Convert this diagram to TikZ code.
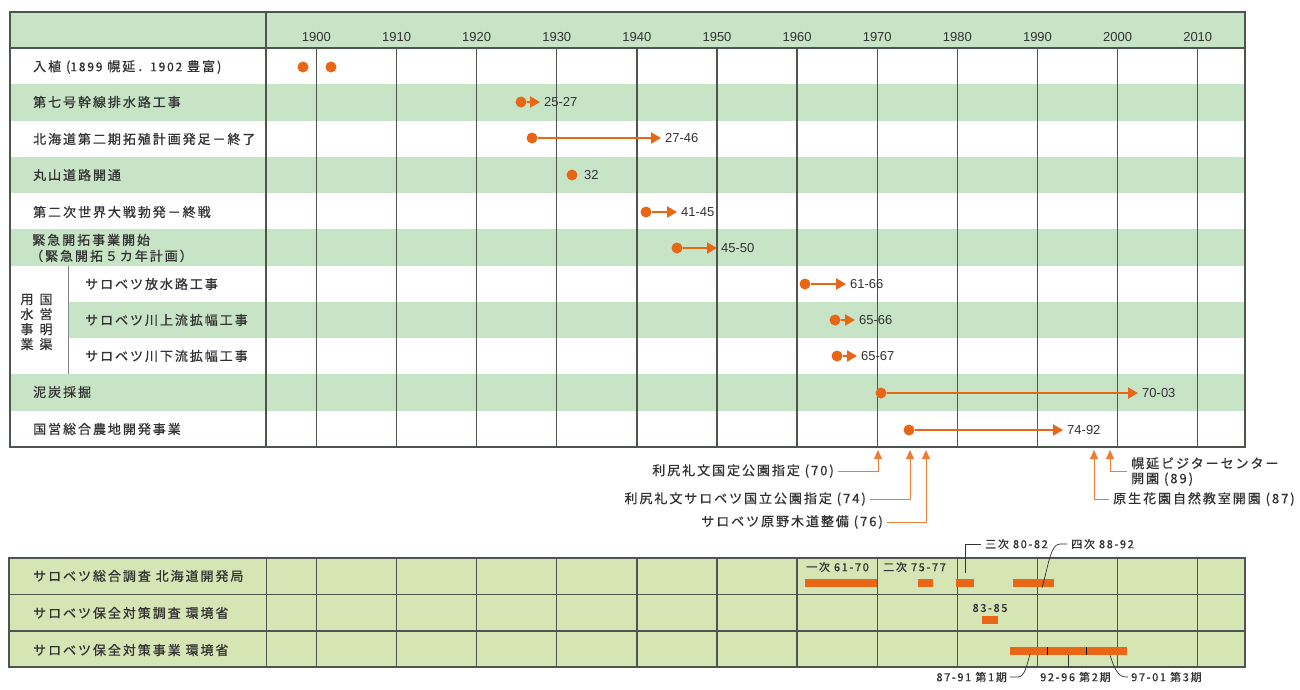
\documentclass[tikz,border=0pt]{standalone}
\usepackage{fontspec}
\setmainfont{Liberation Sans}
\newfontfamily\jp[LetterSpace=15, FakeBold=0.7]{Noto Sans CJK JP}
\newfontfamily\jpn[FakeBold=0.7]{Noto Sans CJK JP}
\usetikzlibrary{arrows.meta}

\definecolor{bandgreen}{RGB}{200,228,198}
\definecolor{boxgreen}{RGB}{214,229,180}
\definecolor{evorange}{RGB}{232,102,22}
\definecolor{gridgray}{RGB}{78,84,78}
\definecolor{txtgray}{RGB}{50,50,50}

\begin{document}
\begin{tikzpicture}[x=1pt, y=-1pt, >=Latex,
  band/.style={fill=bandgreen},
  gridln/.style={draw=gridgray, line width=1.3pt},
  dot/.style={circle, fill=evorange, inner sep=0pt, minimum size=11pt},
  span/.style={draw=evorange, line width=2.2pt, shorten >=4pt, -{Triangle[length=10pt,width=11pt]}},
  yr/.style={text=txtgray, font=\fontsize{13}{14}\selectfont},
  rowlab/.style={anchor=west, inner sep=0pt, text=txtgray, font=\jp\fontsize{13}{16}\selectfont},
  evlab/.style={anchor=west, inner sep=0pt, text=txtgray, font=\fontsize{13}{15}\selectfont},
  callout/.style={draw=evorange!85, line width=1pt, shorten <=4pt, -{Triangle[length=9pt,width=8pt]}},
  bar/.style={draw=evorange, line width=8.5pt},
  tag/.style={inner sep=0pt, text=txtgray, font=\jp\fontsize{11}{12}\selectfont},
  thinln/.style={draw=txtgray, line width=0.7pt}]

  \useasboundingbox (0,0) rectangle (1300,689);
  \fill[white] (0,0) rectangle (1300,689);

  % upper chart
  \fill[band] (10,12) rectangle (1245,48);
  \fill[band] (10,84) rectangle (1245,120.5);
  \fill[band] (10,157) rectangle (1245,193);
  \fill[band] (10,229) rectangle (1245,265.5);
  \fill[band] (68,302) rectangle (1245,338);
  \fill[band] (10,374) rectangle (1245,410.5);
  \draw[gridln] (10,48) -- (1245,48);
  \foreach \k in {0,...,11} {
    \pgfmathtruncatemacro\yy{1900+10*\k}
    \draw[gridln] ({316.4+80.12*\k},48) -- ({316.4+80.12*\k},447);
    \node[yr] (yr\yy) at ({316.4+80.12*\k},37) {\yy};
  }
  \draw[gridln] (266,12) -- (266,447);
  \draw[draw=gridgray!70, line width=0.9pt] (68,265.5) -- (68,374);
  \draw[draw=gridgray, line width=1.5pt] (10,12) rectangle (1245,447);

  \node[rowlab] (r1) at (33,67) {入植 ({\fontsize{12}{12}\selectfont 1899} 幌延．{\fontsize{12}{12}\selectfont 1902} 豊富)};
  \node[rowlab] (r2) at (33,102) {第七号幹線排水路工事};
  \node[rowlab] (r3) at (33,139) {北海道第二期拓殖計画発足－終了};
  \node[rowlab] (r4) at (33,175) {丸山道路開通};
  \node[rowlab] (r5) at (33,212) {第二次世界大戦勃発－終戦};
  \node[rowlab, align=left] (r6) at (30,248) {\,緊急開拓事業開始\\（緊急開拓５カ年計画）};
  \node[rowlab] (r7) at (85,284) {サロベツ放水路工事};
  \node[rowlab] (r8) at (85,320) {サロベツ川上流拡幅工事};
  \node[rowlab] (r9) at (85,356) {サロベツ川下流拡幅工事};
  \node[rowlab] (r10) at (33,392) {泥炭採掘};
  \node[rowlab] (r11) at (33,429) {国営総合農地開発事業};
  \node[rowlab, anchor=center, align=center, font=\jpn\fontsize{13}{15}\selectfont] (grpR) at (46,322) {国\\営\\明\\渠};
  \node[rowlab, anchor=center, align=center, font=\jpn\fontsize{13}{15}\selectfont] (grpL) at (27,322) {用\\水\\事\\業};

  % events
  \node[dot] (d1a) at (303,67) {};
  \node[dot] (d1b) at (331,67) {};
  \node[dot] (d2) at (521,102) {};
  \node[evlab] (l2) at (544,102) {25-27};
  \draw[span] (d2) -- (l2.west);
  \node[dot] (d3) at (532,138) {};
  \node[evlab] (l3) at (665,138) {27-46};
  \draw[span] (d3) -- (l3.west);
  \node[dot] (d4) at (572,175) {};
  \node[evlab] (l4) at (584,175) {32};
  \node[dot] (d5) at (646,212) {};
  \node[evlab] (l5) at (681,212) {41-45};
  \draw[span] (d5) -- (l5.west);
  \node[dot] (d6) at (677,248) {};
  \node[evlab] (l6) at (721,248) {45-50};
  \draw[span] (d6) -- (l6.west);
  \node[dot] (d7) at (805,284) {};
  \node[evlab] (l7) at (850,284) {61-66};
  \draw[span] (d7) -- (l7.west);
  \node[dot] (d8) at (835,320) {};
  \node[evlab] (l8) at (859,320) {65-66};
  \draw[span] (d8) -- (l8.west);
  \node[dot] (d9) at (837,356) {};
  \node[evlab] (l9) at (861,356) {65-67};
  \draw[span] (d9) -- (l9.west);
  \node[dot] (d10) at (881,393) {};
  \node[evlab] (l10) at (1142,393) {70-03};
  \draw[span] (d10) -- (l10.west);
  \node[dot] (d11) at (909,430) {};
  \node[evlab] (l11) at (1067,430) {74-92};
  \draw[span] (d11) -- (l11.west);

  % callouts below the chart
  \coordinate (t70) at (878,450);
  \coordinate (t74) at (910,450);
  \coordinate (t76) at (926,450);
  \coordinate (t87) at (1094,450);
  \coordinate (t89) at (1110,450);
  \node[rowlab, anchor=east] (c70) at (834,471) {利尻礼文国定公園指定 (70)};
  \node[rowlab, anchor=east] (c74) at (866,499) {利尻礼文サロベツ国立公園指定 (74)};
  \node[rowlab, anchor=east] (c76) at (883,522) {サロベツ原野木道整備 (76)};
  \node[rowlab, align=left, font=\jp\fontsize{13}{15}\selectfont] (c89) at (1131,471.5) {幌延ビジターセンター\\開園 (89)};
  \node[rowlab] (c87) at (1113,499) {原生花園自然教室開園 (87)};
  \draw[callout] (c70.east) -| (t70);
  \draw[callout] (c74.east) -| (t74);
  \draw[callout] (c76.east) -| (t76);
  \draw[callout] (c89.west) -| (t89);
  \draw[callout] (c87.west) -| (t87);

  % lower chart
  \fill[boxgreen] (9,558) rectangle (1245,667);
  \foreach \k in {0,...,11}
    \draw[gridln] ({316.4+80.12*\k},558) -- ({316.4+80.12*\k},667);
  \draw[gridln] (9,594.5) -- (1245,594.5);
  \draw[gridln] (9,631) -- (1245,631);
  \draw[gridln] (266.5,558) -- (266.5,667);
  \draw[draw=gridgray, line width=1.5pt] (9,558) rectangle (1245,667);

  \node[rowlab] (s1) at (33,576) {サロベツ総合調査 北海道開発局};
  \node[rowlab] (s2) at (33,613) {サロベツ保全対策調査 環境省};
  \node[rowlab] (s3) at (33,650) {サロベツ保全対策事業 環境省};

  \draw[bar] (805,583) -- (877,583);
  \draw[bar] (918,583) -- (933,583);
  \draw[bar] (956,583) -- (974,583);
  \draw[bar] (1013,583) -- (1054,583);
  \draw[bar] (982,620) -- (998,620);
  \draw[bar] (1010,651) -- (1127,651);
  \draw[black, line width=1pt] (1047,647) -- (1047,655);
  \draw[black, line width=1pt] (1086,647) -- (1086,655);

  \node[tag, anchor=west] (p1) at (806,567) {一次 61-70};
  \node[tag, anchor=west] (p2) at (883,567) {二次 75-77};
  \node[tag, anchor=west] (p3) at (985,544) {三次 80-82};
  \node[tag, anchor=west] (p4) at (1071,544) {四次 88-92};
  \node[tag] (p5) at (990,608) {83-85};
  \node[tag, anchor=east] (p6) at (1007,677) {87-91 第1期};
  \node[tag, anchor=west] (p7) at (1040,677) {92-96 第2期};
  \node[tag, anchor=west] (p8) at (1131,677) {97-01 第3期};
  \coordinate (b3) at (965,573);
  \coordinate (b4) at (1042,588);
  \coordinate (b6a) at (1030,654);
  \coordinate (b6b) at (1068,655);
  \coordinate (b6c) at (1110,655);
  \draw[thinln] (b3) |- ([xshift=-4pt]p3.west);
  \draw[thinln] (b4) .. controls (1049,562) and (1051,544) .. (1060,544) -- ([xshift=-4pt]p4.west);
  \draw[thinln] ([xshift=3pt]p6.east) -- (1018,677) .. controls (1025,677) and (1027,664) .. (b6a);
  \draw[thinln] (b6b) -- (1068,667);
  \draw[thinln] (b6c) .. controls (1114,668) and (1118,677) .. (1126,677) -- ([xshift=-3pt]p8.west);
\end{tikzpicture}
\end{document}
